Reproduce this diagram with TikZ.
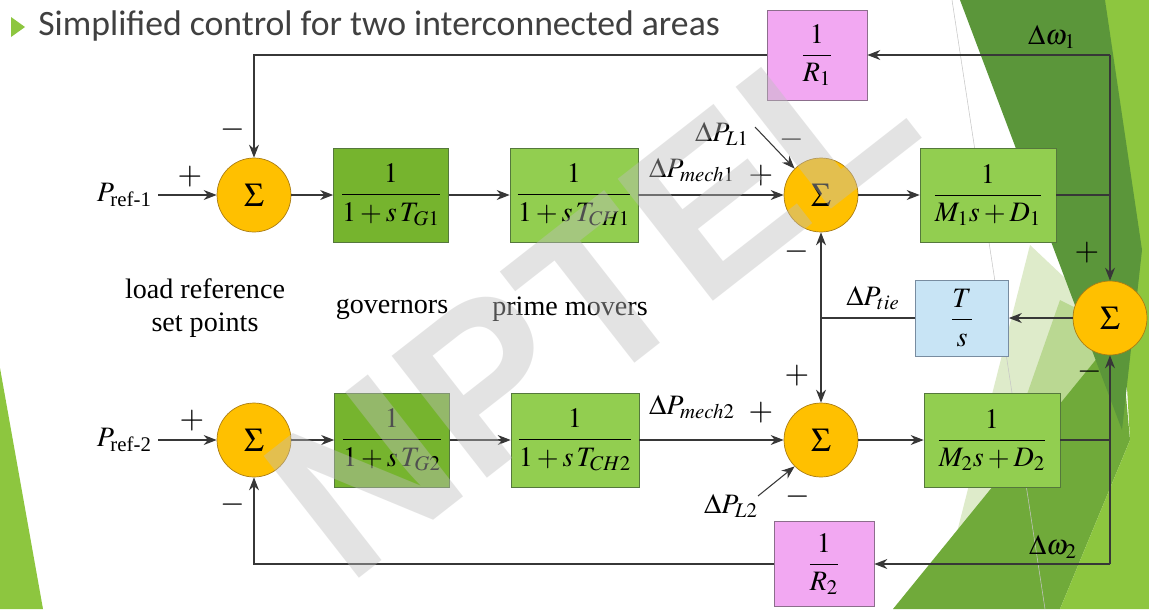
\documentclass[tikz,border=0pt]{standalone}
\usepackage{amsmath}
\usepackage{mathptmx}
\usepackage{fontspec}
\setmainfont{Liberation Serif}
\setsansfont{Liberation Sans}
\newfontfamily\titlefont{Carlito}
\usetikzlibrary{arrows.meta}

\definecolor{sumfill}{RGB}{255,192,0}
\definecolor{sumedge}{RGB}{170,125,20}
\definecolor{govgreen}{RGB}{118,180,46}
\definecolor{lightgreen}{RGB}{146,206,80}
\definecolor{boxedge}{RGB}{85,120,60}
\definecolor{droopfill}{RGB}{242,168,242}
\definecolor{droopedge}{RGB}{140,110,140}
\definecolor{tiefill}{RGB}{200,228,245}
\definecolor{tieedge}{RGB}{120,140,160}
\definecolor{linecol}{RGB}{55,55,55}
\definecolor{slidelime}{RGB}{141,198,63}
\definecolor{slidedark}{RGB}{91,150,58}
\definecolor{slidemid}{RGB}{112,170,58}
\definecolor{slidepale}{RGB}{222,235,202}
\definecolor{slidesoft}{RGB}{186,216,146}
\definecolor{titlegray}{RGB}{64,64,64}
\definecolor{wmgray}{RGB}{190,190,190}

\tikzset{
  sumnode/.style={circle, draw=sumedge, fill=sumfill, minimum size=1.48cm,
    inner sep=0pt, font=\fontsize{19}{22}\selectfont},
  govbox/.style={draw=boxedge, fill=govgreen, minimum width=2.3cm,
    minimum height=1.88cm, inner sep=0pt},
  movebox/.style={govbox, fill=lightgreen, minimum width=2.56cm},
  massbox/.style={govbox, fill=lightgreen, minimum width=2.72cm},
  droopbox/.style={draw=droopedge, fill=droopfill, minimum width=2cm,
    minimum height=1.8cm, inner sep=0pt},
  tiebox/.style={draw=tieedge, fill=tiefill, minimum width=1.86cm,
    minimum height=1.52cm, inner sep=0pt},
  sig/.style={draw=linecol, line width=0.6pt, -{Stealth[length=2.6mm,width=2mm]}},
  plainsig/.style={draw=linecol, line width=0.6pt},
  sgn/.style={inner sep=0pt, font=\fontsize{18}{20}\selectfont}
}

\begin{document}
\begin{tikzpicture}[x=0.02cm, y=-0.02cm, font=\fontsize{16}{19}\selectfont]
    \useasboundingbox (0,0) rectangle (1149,609);
    \fill[white] (0,0) rectangle (1149,609);

    % slide background
    \fill[slidelime] (0,368) -- (0,609) -- (43,609) -- cycle;
    \fill[slidepale] (1030,245) -- (1120,330) -- (955,540) -- cycle;
    \fill[slidesoft] (1060,300) -- (1120,330) -- (990,500) -- cycle;
    \fill[slidemid] (893,609) -- (1120,330) -- (1130,440) -- (1060,609) -- cycle;
    \fill[slidelime] (1105,0) -- (1149,0) -- (1149,609) -- (1060,609) -- (1130,440) -- cycle;
    \fill[slidedark] (960,0) -- (1105,0) -- (1142,250) -- (1122,430) -- cycle;
    \draw[gray!45, line width=0.3pt] (952,0) -- (1045,609);

    % title
    \fill[slidelime] (11,17) -- (11,37) -- (25,27) -- cycle;
    \node[anchor=west, inner sep=0pt, text=titlegray,
      font=\titlefont\fontsize{20.3}{24}\selectfont] (title) at (38,26)
      {Simplified control for two interconnected areas};

    % area 1
    \node[anchor=east] (pref1) at (158,195) {$P_{\text{ref-1}}$};
    \node[sumnode] (sumA1) at (254,195) {$\Sigma$};
    \node[govbox] (g1) at (391,195) {$\dfrac{1}{1+s\,T_{G1}}$};
    \node[movebox] (ch1) at (574,195) {$\dfrac{1}{1+s\,T_{CH1}}$};
    \node[sumnode] (sumP1) at (821,195) {$\Sigma$};
    \node[massbox] (m1) at (988,195) {$\dfrac{1}{M_1s+D_1}$};
    \node[droopbox] (r1) at (817,55) {$\dfrac{1}{R_1}$};

    % area 2
    \node[anchor=east] (pref2) at (158,440) {$P_{\text{ref-2}}$};
    \node[sumnode] (sumA2) at (254,440) {$\Sigma$};
    \node[govbox] (g2) at (392,440) {$\dfrac{1}{1+s\,T_{G2}}$};
    \node[movebox] (ch2) at (575,440) {$\dfrac{1}{1+s\,T_{CH2}}$};
    \node[sumnode] (sumP2) at (821,440) {$\Sigma$};
    \node[massbox] (m2) at (992,440) {$\dfrac{1}{M_2s+D_2}$};
    \node[droopbox, minimum height=1.7cm] (r2) at (824,564) {$\dfrac{1}{R_2}$};

    % tie line
    \node[sumnode] (sumW) at (1110,318) {$\Sigma$};
    \node[tiebox] (ts) at (962,318) {$\dfrac{T}{s}$};

    % corners
    \coordinate (top1) at (1110,55);
    \coordinate (j1) at (1110,195);
    \coordinate (j2) at (1110,440);
    \coordinate (bot2) at (1110,564);
    \coordinate (tj) at (821,318);
    \coordinate (l1s) at (755,127);
    \coordinate (l2s) at (758,496);

    % forward paths
    \draw[sig] (pref1.east) -- (sumA1);
    \draw[sig] (sumA1) -- (g1);
    \draw[sig] (g1) -- (ch1);
    \draw[sig] (ch1) -- (sumP1);
    \draw[sig] (sumP1) -- (m1);
    \draw[sig] (pref2.east) -- (sumA2);
    \draw[sig] (sumA2) -- (g2);
    \draw[sig] (g2) -- (ch2);
    \draw[sig] (ch2) -- (sumP2);
    \draw[sig] (sumP2) -- (m2);

    % load steps
    \node (dpl1) at (722,134) {$\Delta P_{L1}$};
    \node (dpl2) at (731,506) {$\Delta P_{L2}$};
    \draw[sig] (l1s) -- (sumP1.north west);
    \draw[sig] (l2s) -- (sumP2.south west);

    % frequency feedback
    \draw[plainsig] (m1.east) -- (j1);
    \draw[plainsig] (m2.east) -- (j2);
    \draw[plainsig] (top1) -- (j1);
    \draw[sig] (j1) -- (sumW);
    \draw[sig] (top1) -- (r1);
    \draw[sig] (r1) -| (sumA1);
    \draw[plainsig] (bot2) -- (j2);
    \draw[sig] (j2) -- (sumW);
    \draw[sig] (bot2) -- (r2);
    \draw[sig] (r2) -| (sumA2);

    % tie power
    \draw[sig] (sumW) -- (ts);
    \draw[plainsig] (ts) -- (tj);
    \draw[sig] (tj) -- (sumP1);
    \draw[sig] (tj) -- (sumP2);

    % labels
    \node (dpm1) at (692,170) {$\Delta P_{mech1}$};
    \node (dpm2) at (692,407) {$\Delta P_{mech2}$};
    \node (dptie) at (873,298) {$\Delta P_{tie}$};
    \node (dw1) at (1052,37) {$\Delta\omega_1$};
    \node (dw2) at (1053,547) {$\Delta\omega_2$};
    \node[align=center] (lrsp) at (205,308) {load reference\\set points};
    \node (gov) at (392,309) {governors};
    \node (pm) at (570,309) {prime movers};

    % signs
    \node[sgn] at (190,177) {$+$};
    \node[sgn] at (233,130) {$-$};
    \node[sgn] at (192,421) {$+$};
    \node[sgn] at (233,505) {$-$};
    \node[sgn] at (761,176) {$+$};
    \node[sgn] at (792,140) {$-$};
    \node[sgn] at (797,252) {$-$};
    \node[sgn] at (761,413) {$+$};
    \node[sgn] at (797,376) {$+$};
    \node[sgn] at (798,497) {$-$};
    \node[sgn] at (1087,253) {$+$};
    \node[sgn] at (1090,372) {$-$};

    % watermark
    \node[rotate=38, text=wmgray, opacity=0.42, inner sep=0pt,
      font=\sffamily\bfseries\fontsize{128}{128}\selectfont] (wm) at (590,300) {NPTEL};
\end{tikzpicture}
\end{document}
